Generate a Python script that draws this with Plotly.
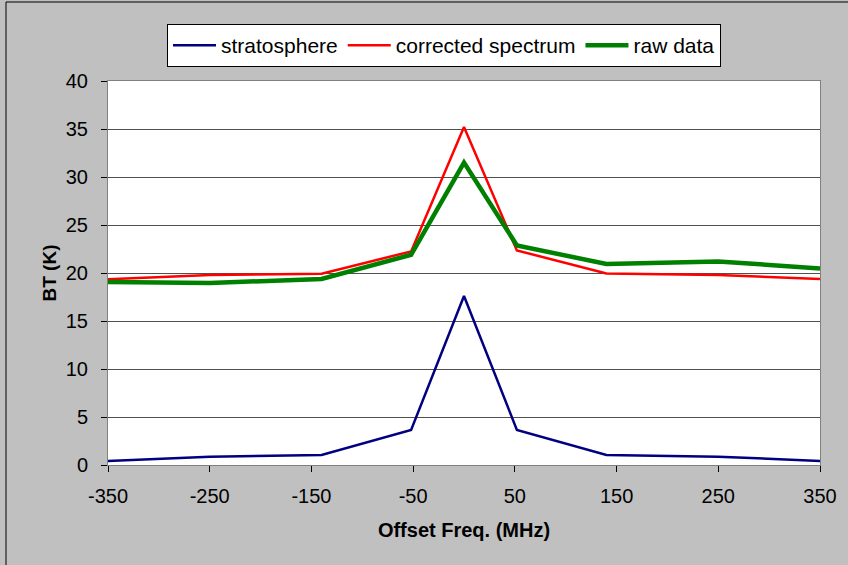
import plotly.graph_objects as go

freq = [-350, -250, -140, -52, 0, 52, 140, 250, 350]
stratosphere = [0.42, 0.87, 1.04, 3.66, 17.6, 3.66, 1.04, 0.87, 0.42]
corrected = [19.35, 19.8, 19.93, 22.25, 35.2, 22.35, 19.96, 19.8, 19.37]
raw = [19.06, 18.96, 19.38, 21.9, 31.5, 22.87, 20.94, 21.2, 20.48]
x_ticks = [-350, -250, -150, -50, 50, 150, 250, 350]
y_ticks = [0, 5, 10, 15, 20, 25, 30, 35, 40]

FONT = "Liberation Sans, Arial, sans-serif"

fig = go.Figure()
fig.add_trace(go.Scatter(x=freq, y=stratosphere, mode="lines", name="stratosphere",
                         line=dict(color="#000080", width=2.5)))
fig.add_trace(go.Scatter(x=freq, y=corrected, mode="lines", name="corrected spectrum",
                         line=dict(color="#FF0000", width=2.5)))
fig.add_trace(go.Scatter(x=freq, y=raw, mode="lines", name="raw data",
                         line=dict(color="#008000", width=4.5)))

L, R, T, B = 108, 28, 81, 100
W, H = 848, 565
pw, ph = W - L - R, H - T - B

def px(x):
    return (x - L) / pw

def py(y):
    return (H - B - y) / ph

fig.update_layout(
    width=W, height=H,
    margin=dict(l=L, r=R, t=T, b=B),
    paper_bgcolor="#C0C0C0",
    plot_bgcolor="#FFFFFF",
    font=dict(family=FONT, size=20, color="#000000"),
    showlegend=True,
    legend=dict(orientation="h", x=px(167), y=py(24), xanchor="left", yanchor="top",
                bgcolor="#FFFFFF", bordercolor="#000000", borderwidth=1,
                font=dict(family=FONT, size=21), itemwidth=43,
                tracegroupgap=0),
    xaxis=dict(range=[-350, 350], tickvals=x_ticks, ticktext=[str(v) for v in x_ticks],
               showgrid=False, zeroline=False, ticks="outside", ticklen=6,
               tickcolor="#000000", showline=True, linecolor="#808080", linewidth=1,
               mirror=True, tickfont=dict(size=20), ticklabelstandoff=7,
               title=dict(text="<b>Offset Freq. (MHz)</b>", font=dict(size=20), standoff=16)),
    yaxis=dict(range=[0, 40], tickvals=y_ticks, showgrid=True, gridcolor="#505050",
               gridwidth=1, zeroline=False, ticks="outside", ticklen=6,
               tickcolor="#000000", showline=True, linecolor="#808080", linewidth=1,
               mirror=True, tickfont=dict(size=20), ticklabelstandoff=9,
               title=dict(text="<b>BT (K)</b>", font=dict(size=19), standoff=4)),
    shapes=[dict(type="rect", xref="paper", yref="paper",
                 x0=px(6), x1=px(W + 5), y0=py(H + 5), y1=py(2),
                 line=dict(color="#000000", width=1), layer="below")],
)

fig.write_html("out.html", config={"displayModeBar": False},
               post_script="document.body.style.margin='0';document.body.style.padding='0';")
